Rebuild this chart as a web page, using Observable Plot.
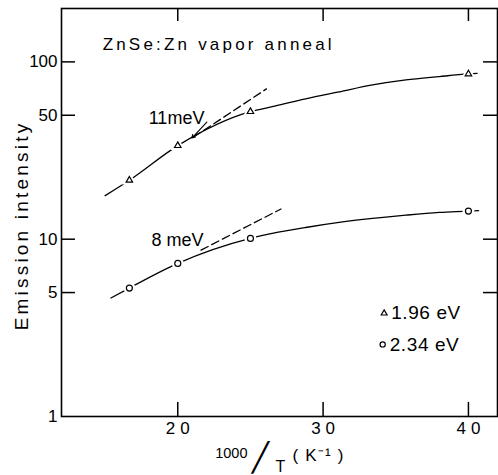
<!DOCTYPE html>
<html><head><meta charset="utf-8">
<script src="https://cdn.jsdelivr.net/npm/d3@7"></script>
<script src="https://cdn.jsdelivr.net/npm/@observablehq/plot@0.6"></script>
<style>body{margin:0;background:#fff}</style>
</head><body><div id="chart"></div>
<script>
// ---- data ----
const xTicks = [20, 30, 40];
const yTicks = [1, 5, 10, 50, 100];
const innerYTicks = [5, 10, 50, 100];
const pointX = [16.67, 20, 25, 40];
const tri196 = [21.5, 33.7, 52.4, 85.5];   // 1.96 eV
const cir234 = [5.3, 7.3, 10.1, 14.4];     // 2.34 eV
const triCurveX = [15, 16.67, 20, 25, 26.5, 28.8, 31.1, 33.4, 35.7, 38.0, 40, 40.6];
const triCurveY = [17.6, 21.5, 33.7, 52.4, 55.9, 61.8, 67.7, 74.1, 79.1, 82.6, 85.5, 86.2];
const cirCurveX = [15.4, 16.67, 20, 25, 26.5, 28.8, 31.1, 33.4, 35.7, 38.0, 40, 40.7];
const cirCurveY = [4.66, 5.3, 7.3, 10.1, 10.77, 11.64, 12.43, 13.09, 13.66, 14.15, 14.4, 14.5];
const triTangentX = [21.1, 26.1], triTangentY = [37.7, 70.4];
const cirTangentX = [21.6, 27.1], cirTangentY = [8.67, 14.8];
const leaderX = [22.0, 20.97], leaderY = [45.8, 37.2];
const slopeLabels = ["11meV", "8 meV"];
const slopeLabelX = [18.0, 18.2], slopeLabelY = [48, 9.87];
const legendLabels = ["1.96 eV", "2.34 eV"];
const legendX = [34.2, 34.1], legendY = [3.82, 2.55];
const title = "ZnSe:Zn vapor anneal";
const titleX = 14.83, titleY = 125;
const yLabel = "Emission intensity";
const xLabelParts = ["1000", "\u2571", "T", "( K\u207B\u00B9 )"];

const zip = (xs, ys) => xs.map((x, i) => ({x, y: ys[i]}));
const font = "Liberation Sans, Arial, sans-serif";

const chart = Plot.plot({
  width: 498, height: 475,
  marginLeft: 61, marginRight: 1, marginTop: 8, marginBottom: 59,
  style: {fontFamily: font, fontSize: "17px", background: "white", color: "black", overflow: "visible"},
  x: {domain: [12, 42]},
  y: {type: "log", domain: [1, 200]},
  marks: [
    Plot.frame({stroke: "black", strokeWidth: 1.6}),
    // inward ticks (14 px long)
    Plot.ruleY(innerYTicks, {y: d => d, insetRight: 422, strokeWidth: 1.5}),
    Plot.ruleY(innerYTicks, {y: d => d, insetLeft: 422, strokeWidth: 1.5}),
    Plot.ruleX(xTicks, {x: d => d, insetTop: 394, strokeWidth: 1.5}),
    Plot.ruleX(xTicks, {x: d => d, insetBottom: 395, strokeWidth: 1.5}),
    Plot.axisY({ticks: yTicks, tickSize: 0, tickPadding: 4, tickFormat: d => String(d), label: null, fontSize: 17}),
    Plot.axisX({ticks: xTicks, tickSize: 0, tickPadding: 5, label: null, fontSize: 17, dx: 2.5}),
    // curves
    Plot.line(zip(triCurveX, triCurveY), {x: "x", y: "y", curve: "monotone-x", strokeWidth: 1.3}),
    Plot.line(zip(cirCurveX, cirCurveY), {x: "x", y: "y", curve: "monotone-x", strokeWidth: 1.3}),
    Plot.line(zip(triTangentX, triTangentY), {x: "x", y: "y", strokeWidth: 1.3, strokeDasharray: "8,4"}),
    Plot.line(zip(cirTangentX, cirTangentY), {x: "x", y: "y", strokeWidth: 1.3, strokeDasharray: "8,4"}),
    Plot.arrow([0], {x1: leaderX[0], y1: leaderY[0], x2: leaderX[1], y2: leaderY[1], headLength: 5, strokeWidth: 1.1}),
    // halos + markers
    Plot.dot(zip(pointX, tri196), {x: "x", y: "y", symbol: "triangle", r: 4.2, fill: "white", stroke: "white", strokeWidth: 2}),
    Plot.dot(zip(pointX, cir234), {x: "x", y: "y", symbol: "circle", r: 5, fill: "white", stroke: "white", strokeWidth: 2}),
    Plot.dot(zip(pointX, tri196), {x: "x", y: "y", symbol: "triangle", r: 2.4, fill: "white", stroke: "black", strokeWidth: 1.2}),
    Plot.dot(zip(pointX, cir234), {x: "x", y: "y", symbol: "circle", r: 3, fill: "white", stroke: "black", strokeWidth: 1.2}),
    // legend
    Plot.dot([0], {x: legendX[0], y: legendY[0], symbol: "triangle", r: 2.2, stroke: "black", strokeWidth: 1.2}),
    Plot.dot([0], {x: legendX[1], y: legendY[1], symbol: "circle", r: 2.6, stroke: "black", strokeWidth: 1.2}),
    Plot.text(legendLabels, {x: (d, i) => legendX[i], y: (d, i) => legendY[i], text: d => d, dx: 7, textAnchor: "start", fontSize: 19}),
    // annotations
    Plot.text(slopeLabels, {x: (d, i) => slopeLabelX[i], y: (d, i) => slopeLabelY[i], text: d => d, textAnchor: "start", fontSize: 18}),
    Plot.text([title], {x: titleX, y: titleY, text: d => d, textAnchor: "start", fontSize: 17}),
    // axis titles
    Plot.text([yLabel], {frameAnchor: "left", text: d => d, rotate: -90, textAnchor: "middle", lineAnchor: "middle", dx: -40, dy: 13, fontSize: 19}),
    Plot.text([xLabelParts[0]], {frameAnchor: "bottom", text: d => d, textAnchor: "end", lineAnchor: "middle", dx: -32, dy: 37, fontSize: 14.5}),
    Plot.text([xLabelParts[1]], {frameAnchor: "bottom", text: d => d, textAnchor: "middle", lineAnchor: "middle", dx: -19, dy: 42, fontSize: 28, fontFamily: "DejaVu Sans"}),
    Plot.text([xLabelParts[2]], {frameAnchor: "bottom", text: d => d, textAnchor: "middle", lineAnchor: "middle", dx: 1, dy: 50, fontSize: 16}),
    Plot.text([xLabelParts[3]], {frameAnchor: "bottom", text: d => d, textAnchor: "start", lineAnchor: "middle", dx: 13, dy: 39, fontSize: 17})
  ]
});
// letter spacing of the original lettering
const spacing = new Map([[title, 3.2], [yLabel, 3.2], ["20", 5], ["30", 5], ["40", 5],
  ["1.96 eV", 0.6], ["2.34 eV", 0.6], ["( K\u207B\u00B9 )", 1.2]]);
d3.select(chart).selectAll("text").each(function () {
  const s = spacing.get(this.textContent);
  if (s != null) this.setAttribute("letter-spacing", s);
});
document.getElementById("chart").appendChild(chart);
</script>
</body></html>
